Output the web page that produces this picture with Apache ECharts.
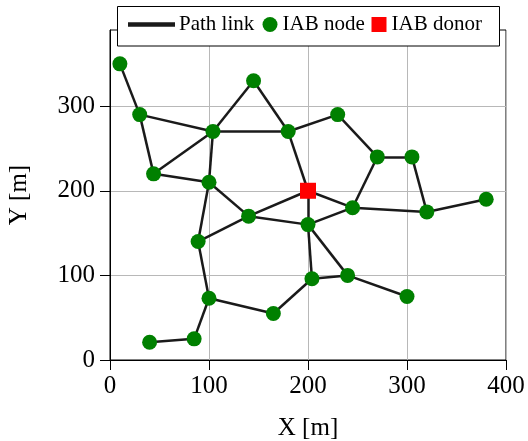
<!DOCTYPE html>
<html>
<head>
<meta charset="utf-8">
<script src="https://cdn.jsdelivr.net/npm/echarts@6/dist/echarts.min.js"></script>
<style>
  html, body { margin: 0; padding: 0; background: #fff; }
  #chart { width: 528px; height: 441px; }
</style>
</head>
<body>
<div id="chart"></div>
<script>
// IAB node positions [m]
const nodeX = [10, 30, 44, 104, 145, 180, 230, 270, 305, 380, 320, 245, 200, 140, 100, 89, 100, 85, 40, 165, 204, 240, 300];
const nodeY = [350, 290, 220, 270, 330, 270, 290, 240, 240, 190, 175, 180, 160, 170, 210, 140, 73, 25, 21, 55, 96, 100, 75];

// IAB donor position [m]
const donorX = [200];
const donorY = [200];

// Path links between sites: 'N<i>' = IAB node i, 'D<i>' = IAB donor i
const links = [
  ['N0', 'N1'], ['N1', 'N3'], ['N1', 'N2'], ['N2', 'N3'], ['N2', 'N14'],
  ['N3', 'N4'], ['N4', 'N5'], ['N3', 'N5'], ['N3', 'N14'], ['N5', 'D0'],
  ['N5', 'N6'], ['N6', 'N7'], ['N7', 'N8'], ['N7', 'N11'], ['N8', 'N10'],
  ['N10', 'N9'], ['N11', 'N10'], ['D0', 'N11'], ['D0', 'N12'], ['N12', 'N11'],
  ['N14', 'N13'], ['N14', 'N15'], ['N15', 'N13'], ['N13', 'D0'], ['N13', 'N12'],
  ['N15', 'N16'], ['N16', 'N17'], ['N17', 'N18'], ['N16', 'N19'], ['N19', 'N20'],
  ['N20', 'N21'], ['N20', 'N12'], ['N21', 'N12'], ['N21', 'N22']
];

// Axis ticks
const xTicks = [0, 100, 200, 300, 400];
const yTicks = [0, 100, 200, 300];

function site(key) {
  const i = Number(key.slice(1));
  return key[0] === 'D' ? [donorX[i], donorY[i]] : [nodeX[i], nodeY[i]];
}

const linkData = links.map(([a, b]) => ({ coords: [site(a), site(b)] }));
const nodeData = nodeX.map((x, i) => [x, nodeY[i]]);
const donorData = donorX.map((x, i) => [x, donorY[i]]);

const FONT = 'Liberation Serif';
const legendText = { color: '#000', fontFamily: FONT, fontSize: 21 };

const chart = echarts.init(document.getElementById('chart'), null, { renderer: 'canvas' });

chart.setOption({
  animation: false,
  backgroundColor: '#fff',
  grid: {
    left: 110, right: 22, top: 30, bottom: 81,
    outerBoundsMode: 'none', containLabel: false,
    show: true, borderColor: '#000', borderWidth: 1, backgroundColor: 'transparent'
  },
  legend: [
    {
      data: [{ name: 'Path link', icon: 'rect' }],
      left: 128, top: 14, padding: 0, z: 30,
      itemWidth: 45, itemHeight: 2.5, itemGap: 0,
      textStyle: legendText, selectedMode: false
    },
    {
      data: [{ name: 'IAB node', icon: 'circle' }],
      left: 262.5, top: 14, padding: 0, z: 30,
      itemWidth: 15, itemHeight: 15,
      textStyle: legendText, selectedMode: false
    },
    {
      data: [{ name: 'IAB donor', icon: 'rect' }],
      left: 371.5, top: 14, padding: 0, z: 30,
      itemWidth: 15, itemHeight: 15,
      textStyle: legendText, selectedMode: false
    }
  ],
  graphic: [{
    type: 'rect',
    shape: { x: 117.5, y: 6.5, width: 382, height: 39.5 },
    style: { fill: '#fff', stroke: '#000', lineWidth: 1 },
    z: 20
  }],
  xAxis: {
    type: 'value', min: 0, max: 400, interval: 100,
    name: 'X [m]', nameLocation: 'middle', nameGap: 56,
    nameTextStyle: { color: '#000', fontFamily: FONT, fontSize: 25 },
    axisLine: { show: true, onZero: false, lineStyle: { color: '#000', width: 1 } },
    axisTick: { show: true, inside: false, length: 10, customValues: xTicks, lineStyle: { color: '#000', width: 1 } },
    axisLabel: { margin: 14, color: '#000', fontFamily: FONT, fontSize: 25, customValues: xTicks },
    splitLine: { show: true, lineStyle: { color: '#b8b8b8', width: 1 } }
  },
  yAxis: {
    type: 'value', min: 0, max: 390, interval: 100,
    name: 'Y [m]', nameLocation: 'middle', nameGap: 78,
    nameTextStyle: { color: '#000', fontFamily: FONT, fontSize: 25 },
    axisLine: { show: true, onZero: false, lineStyle: { color: '#000', width: 1 } },
    axisTick: { show: true, inside: false, length: 10, customValues: yTicks, lineStyle: { color: '#000', width: 1 } },
    axisLabel: { margin: 15, color: '#000', fontFamily: FONT, fontSize: 25, customValues: yTicks },
    splitLine: { show: true, lineStyle: { color: '#b8b8b8', width: 1 } }
  },
  series: [
    {
      name: 'Path link',
      type: 'lines',
      coordinateSystem: 'cartesian2d',
      data: linkData,
      itemStyle: { color: '#1a1a1a' },
      lineStyle: { color: '#1a1a1a', width: 2.5, opacity: 1 },
      silent: true,
      z: 3
    },
    {
      name: 'IAB node',
      type: 'scatter',
      data: nodeData,
      symbol: 'circle',
      symbolSize: 15,
      itemStyle: { color: '#008000', opacity: 1 },
      z: 4
    },
    {
      name: 'IAB donor',
      type: 'scatter',
      data: donorData,
      symbol: 'rect',
      symbolSize: 16,
      itemStyle: { color: '#ff0000', opacity: 1 },
      z: 5
    }
  ]
});
</script>
</body>
</html>
